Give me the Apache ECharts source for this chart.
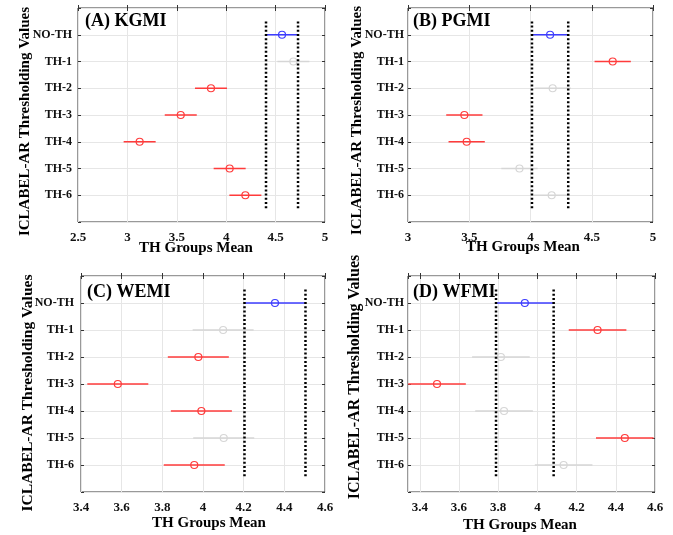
<!DOCTYPE html>
<html>
<head>
<meta charset="utf-8">
<script src="https://cdn.jsdelivr.net/npm/echarts@6/dist/echarts.min.js"></script>
<style>
html,body{margin:0;padding:0;background:#fff;}
#chart{width:673px;height:535px;}
</style>
</head>
<body>
<div id="chart"></div>
<script>
// ---- data ----
var categories = ['NO-TH', 'TH-1', 'TH-2', 'TH-3', 'TH-4', 'TH-5', 'TH-6'];
var panelTitles = ['(A) KGMI', '(B) PGMI', '(C) WEMI', '(D) WFMI'];
// group means per threshold
var meansA = [4.565, 4.68, 3.846, 3.54, 3.124, 4.035, 4.194];
var meansB = [4.160, 4.671, 4.181, 3.46, 3.479, 3.91, 4.173];
var meansC = [4.354, 4.099, 3.977, 3.581, 3.992, 4.102, 3.957];
var meansD = [3.936, 4.307, 3.814, 3.488, 3.83, 4.446, 4.134];
// comparison interval half-widths
var halfA = 0.162, halfB = 0.148, halfC = 0.150, halfD = 0.147;
// 0 = reference (NO-TH), 1 = significantly different, 2 = not significant
var groupA = [0, 2, 1, 1, 1, 1, 1];
var groupB = [0, 1, 2, 1, 1, 2, 2];
var groupC = [0, 2, 1, 1, 1, 2, 1];
var groupD = [0, 1, 2, 1, 2, 1, 2];
// x-axis ranges / tick steps
var xRangeA = [2.5, 5], xRangeB = [3, 5], xRangeC = [3.4, 4.6], xRangeD = [3.34, 4.6];
var xStepA = 0.5, xStepB = 0.5, xStepC = 0.2, xStepD = 0.2;

var panels = [
  {means: meansA, half: halfA, group: groupA, range: xRangeA, step: xStepA},
  {means: meansB, half: halfB, group: groupB, range: xRangeB, step: xStepB},
  {means: meansC, half: halfC, group: groupC, range: xRangeC, step: xStepC},
  {means: meansD, half: halfD, group: groupD, range: xRangeD, step: xStepD}
];

// ---- layout / style ----
var FONT = 'Liberation Serif';
var grids = [
  {left: 78, top: 8, width: 247, height: 214},
  {left: 408, top: 8, width: 245, height: 214},
  {left: 81, top: 276, width: 244, height: 216},
  {left: 408, top: 276, width: 247, height: 216}
];
var labelMargins = [6, 4, 7, 4];
var colors = ['#3d3dff', '#ff3b3b', '#d6d6d6'];
var gridColor = '#e6e6e6';
var boxColor = '#333333';

var option = {
  animation: false,
  backgroundColor: '#fff',
  grid: [], xAxis: [], yAxis: [], series: [], graphic: []
};

function renderBar(params, api) {
  var y = api.value(3);
  var p1 = api.coord([api.value(0), y]);
  var p2 = api.coord([api.value(1), y]);
  var pm = api.coord([api.value(2), y]);
  var c = colors[api.value(4)];
  return {type: 'group', children: [
    {type: 'line', shape: {x1: p1[0], y1: p1[1], x2: p2[0], y2: p2[1]}, style: {stroke: c, lineWidth: 1.5}},
    {type: 'circle', shape: {cx: pm[0], cy: pm[1], r: 3.5}, style: {fill: null, stroke: c, lineWidth: 1.2}}
  ]};
}
function renderRef(params, api) {
  var x = api.value(0);
  var a = api.coord([x, 0.5]);
  var b = api.coord([x, 7.5]);
  return {type: 'line', shape: {x1: a[0], y1: a[1], x2: b[0], y2: b[1]},
    style: {stroke: '#000', lineWidth: 2.5, lineDash: [2, 2.2]}};
}

panels.forEach(function (p, i) {
  var g = grids[i];
  option.grid.push({left: g.left, top: g.top, width: g.width, height: g.height,
    show: true, borderColor: boxColor, borderWidth: 1, backgroundColor: 'transparent'});
  var fmtX = function (v) {
    var r = Math.abs(v / p.step - Math.round(v / p.step));
    if (r > 1e-6) return '';
    return String(+(+v).toFixed(2));
  };
  var xBase = {type: 'value', gridIndex: i, min: p.range[0], max: p.range[1]};
  if (p.range[0] / p.step - Math.round(p.range[0] / p.step) === 0 || Math.abs(p.range[0] / p.step - Math.round(p.range[0] / p.step)) < 1e-9) {
    xBase.interval = p.step;
  } else {
    xBase.splitNumber = 6;
  }
  var xMain = Object.assign({}, xBase, {
    position: 'bottom',
    axisLine: {show: false},
    axisTick: {show: true, inside: true, length: 3, lineStyle: {color: boxColor}},
    splitLine: {show: true, lineStyle: {color: gridColor, width: 1}},
    axisLabel: {formatter: fmtX, fontFamily: FONT, fontWeight: 'bold', fontSize: 13, color: '#111', margin: 9}
  });
  var xTop = Object.assign({}, xBase, {
    position: 'top',
    axisLine: {show: false},
    axisTick: {show: true, inside: true, length: 3, lineStyle: {color: boxColor}},
    splitLine: {show: false},
    axisLabel: {show: false}
  });
  option.xAxis.push(xMain, xTop);
  var yBase = {type: 'value', gridIndex: i, min: 0, max: 8, interval: 1, inverse: true};
  var yMain = Object.assign({}, yBase, {
    position: 'left',
    axisLine: {show: false},
    axisTick: {show: true, inside: true, length: 3, lineStyle: {color: boxColor}},
    splitLine: {show: true, lineStyle: {color: gridColor, width: 1}},
    axisLabel: {
      formatter: function (v) { return categories[v - 1] || ''; },
      fontFamily: FONT, fontWeight: 'bold', fontSize: 12, color: '#111', margin: labelMargins[i]
    }
  });
  var yRight = Object.assign({}, yBase, {
    position: 'right',
    axisLine: {show: false},
    axisTick: {show: true, inside: true, length: 3, lineStyle: {color: boxColor}},
    splitLine: {show: false},
    axisLabel: {show: false}
  });
  option.yAxis.push(yMain, yRight);

  var data = p.means.map(function (m, k) {
    return [m - p.half, m + p.half, m, k + 1, p.group[k]];
  });
  var refData = [[p.means[0] - p.half], [p.means[0] + p.half]];
  option.series.push({
    type: 'custom', xAxisIndex: 2 * i, yAxisIndex: 2 * i,
    renderItem: renderRef, data: refData, encode: {x: 0}, silent: true, z: 3
  });
  option.series.push({
    type: 'custom', xAxisIndex: 2 * i, yAxisIndex: 2 * i,
    renderItem: renderBar, data: data, encode: {x: [0, 1, 2], y: 3}, silent: true, z: 2
  });
});

// panel titles
var titlePos = [[85, 21], [413, 21], [87, 292], [413, 292]];
// axis names
var xNamePos = [[196, 248], [523, 247], [209, 523], [520, 525]];
var yNamePos = [[25, 121.5, 15], [357, 120.5, 15], [28, 393, 15.5], [355, 377, 16]];

panelTitles.forEach(function (t, i) {
  option.graphic.push({
    type: 'text', x: titlePos[i][0], y: titlePos[i][1], z: 10,
    style: {text: t, fontFamily: FONT, fontWeight: 'bold', fontSize: 18, fill: '#000',
      textAlign: 'left', textVerticalAlign: 'middle'}
  });
  option.graphic.push({
    type: 'text', x: xNamePos[i][0], y: xNamePos[i][1], z: 10,
    style: {text: 'TH Groups Mean', fontFamily: FONT, fontWeight: 'bold', fontSize: 15, fill: '#000',
      textAlign: 'center', textVerticalAlign: 'middle'}
  });
  option.graphic.push({
    type: 'text', x: yNamePos[i][0], y: yNamePos[i][1], rotation: Math.PI / 2, z: 10,
    style: {text: 'ICLABEL-AR Thresholding Values', fontFamily: FONT, fontWeight: 'bold', fontSize: yNamePos[i][2], fill: '#000',
      textAlign: 'center', textVerticalAlign: 'middle'}
  });
});

var chart = echarts.init(document.getElementById('chart'), null, {renderer: 'canvas'});
chart.setOption(option);
</script>
</body>
</html>
